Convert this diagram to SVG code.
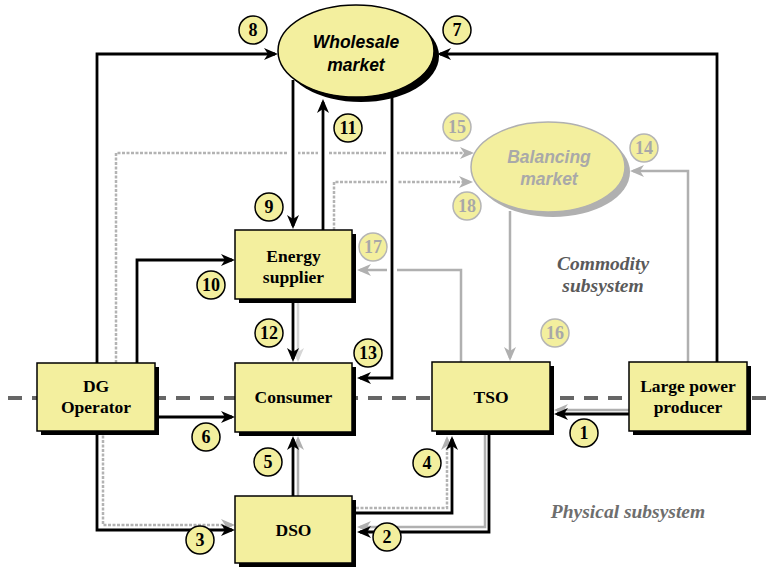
<svg xmlns="http://www.w3.org/2000/svg" width="773" height="568" viewBox="0 0 773 568">
<style>
.box{fill:#f3ef9e;stroke:#000;stroke-width:1.5}
.shd{fill:#000}
.bt{font-family:"Liberation Serif",serif;font-weight:bold;font-size:17.5px;text-anchor:middle;fill:#000}
.bl{fill:none;stroke:#000;stroke-width:2.8}
.gl{fill:none;stroke:#b0b0b0;stroke-width:2.5}
.lg{fill:none;stroke:#d6d6d6;stroke-width:2.5}
.gd{fill:none;stroke:#b3b3b3;stroke-width:2.5;stroke-dasharray:3 1.5}
.cb circle{fill:#f3ef9e;stroke:#000;stroke-width:1.5}
.cb text{font-family:"Liberation Serif",serif;font-weight:bold;font-size:18px;text-anchor:middle;fill:#000}
.cg circle{fill:#f3ef9e;stroke:#b5b5b5;stroke-width:1.5}
.cg text{font-family:"Liberation Serif",serif;font-weight:bold;font-size:18px;text-anchor:middle;fill:#a8a8a8}
.mk{font-family:"Liberation Sans",Arial,sans-serif;font-weight:bold;font-style:italic;font-size:17.5px;text-anchor:middle}
.sub{font-family:"Liberation Serif",serif;font-weight:bold;font-style:italic;font-size:19.5px;text-anchor:middle}
</style>
<defs>
<marker id="ab" viewBox="0 0 14 12" refX="11" refY="6" markerWidth="14" markerHeight="12" orient="auto" markerUnits="userSpaceOnUse"><path d="M0,0 L14,6 L0,12 L4,6 z" fill="#000"/></marker>
<marker id="ag" viewBox="0 0 14 12" refX="11" refY="6" markerWidth="14" markerHeight="12" orient="auto" markerUnits="userSpaceOnUse"><path d="M0,0 L14,6 L0,12 L4,6 z" fill="#b0b0b0"/></marker>
<marker id="al" viewBox="0 0 14 12" refX="11" refY="6" markerWidth="14" markerHeight="12" orient="auto" markerUnits="userSpaceOnUse"><path d="M0,0 L14,6 L0,12 L4,6 z" fill="#d6d6d6"/></marker>
</defs>
<rect width="773" height="568" fill="#fff"/>
<line x1="8" y1="398" x2="773" y2="398" stroke="#666" stroke-width="4" stroke-dasharray="14 10"/>
<g id="connectors">
<!-- gray / dotted -->
<path class="gd" d="M116,363 V153 H471" marker-end="url(#ag)"/>
<path class="gd" d="M334,230 V182 H470" marker-end="url(#ag)"/>
<path class="gl" d="M688,362 V171 H633" marker-end="url(#ag)"/>
<path class="gl" d="M510,211 V358" marker-end="url(#ag)"/>
<path class="gl" d="M461,362 V270 H360" marker-end="url(#ag)"/>
<path class="lg" d="M298,303 V359" marker-end="url(#al)"/>
<path class="gl" d="M298,496 V439" marker-end="url(#ag)"/>
<path class="gd" d="M103,431 V525 H232" marker-end="url(#ag)"/>
<path class="gd" d="M356,508 H447 V439" marker-end="url(#ag)"/>
<path class="gl" d="M485,435 V527 H360" marker-end="url(#ag)"/>
<path class="gl" d="M629,410 H557" marker-end="url(#ag)"/>
<!-- gaps -->
<g fill="#fff">
<rect x="288" y="149" width="10" height="8"/>
<rect x="318" y="149" width="10" height="8"/>
<rect x="387" y="149" width="10" height="8"/>
<rect x="387" y="178" width="10" height="8"/>
<rect x="387" y="266" width="10" height="8"/>
</g>
<!-- black -->
<path class="bl" d="M97,363 V54 H275" marker-end="url(#ab)"/>
<path class="bl" d="M717,362 V54 H440" marker-end="url(#ab)"/>
<path class="bl" d="M293,80 V226" marker-end="url(#ab)"/>
<path class="bl" d="M323,230 V102" marker-end="url(#ab)"/>
<path class="bl" d="M392,95 V378 H360" marker-end="url(#ab)"/>
<path class="bl" d="M137,363 V260 H232" marker-end="url(#ab)"/>
<path class="bl" d="M293,299 V359" marker-end="url(#ab)"/>
<path class="bl" d="M293,496 V439" marker-end="url(#ab)"/>
<path class="bl" d="M155,417 H232" marker-end="url(#ab)"/>
<path class="bl" d="M97,431 V530 H232" marker-end="url(#ab)"/>
<path class="bl" d="M356,513 H452 V439" marker-end="url(#ab)"/>
<path class="bl" d="M489,435 V532 H360" marker-end="url(#ab)"/>
<path class="bl" d="M629,414 H557" marker-end="url(#ab)"/>
</g>
<g id="wholesale">
<ellipse cx="361" cy="56" rx="78" ry="46" fill="#000"/>
<ellipse cx="356" cy="51" rx="78" ry="46" fill="#f3ef9e" stroke="#000" stroke-width="1.5"/>
<text class="mk" x="356" y="48">Wholesale</text>
<text class="mk" x="356" y="71">market</text>
</g>
<g id="balancing">
<ellipse cx="553" cy="172" rx="77" ry="45" fill="#b0b0b0"/>
<ellipse cx="548" cy="167" rx="77" ry="45" fill="#f3ef9e" stroke="#b0b0b0" stroke-width="1.5"/>
<text class="mk" x="549" y="163" fill="#a9a9a9">Balancing</text>
<text class="mk" x="549" y="185" fill="#a9a9a9">market</text>
</g>
<g id="energy-supplier">
<rect class="shd" x="239" y="234" width="117" height="69"/>
<rect class="box" x="235" y="230" width="117" height="69"/>
<text class="bt" x="293.5" y="262">Energy</text>
<text class="bt" x="293.5" y="283">supplier</text>
</g>
<g id="consumer">
<rect class="shd" x="239" y="367" width="117" height="69"/>
<rect class="box" x="235" y="363" width="117" height="69"/>
<text class="bt" x="293.5" y="403">Consumer</text>
</g>
<g id="dso">
<rect class="shd" x="239" y="500" width="117" height="67"/>
<rect class="box" x="235" y="496" width="117" height="67"/>
<text class="bt" x="293.5" y="536">DSO</text>
</g>
<g id="dg-operator">
<rect class="shd" x="41" y="367" width="118" height="68"/>
<rect class="box" x="37" y="363" width="118" height="68"/>
<text class="bt" x="96" y="392">DG</text>
<text class="bt" x="96" y="413">Operator</text>
</g>
<g id="tso">
<rect class="shd" x="436" y="366" width="118" height="69"/>
<rect class="box" x="432" y="362" width="118" height="69"/>
<text class="bt" x="491" y="403">TSO</text>
</g>
<g id="large-power-producer">
<rect class="shd" x="633" y="366" width="118" height="69"/>
<rect class="box" x="629" y="362" width="118" height="69"/>
<text class="bt" x="688" y="392">Large power</text>
<text class="bt" x="688" y="413">producer</text>
</g>
<g id="labels-black" class="cb">
<circle cx="584" cy="433" r="14"/><text x="584" y="439">1</text>
<circle cx="387" cy="537" r="14"/><text x="387" y="543">2</text>
<circle cx="200" cy="540" r="14"/><text x="200" y="546">3</text>
<circle cx="427" cy="463" r="14"/><text x="427" y="469">4</text>
<circle cx="268" cy="462" r="14"/><text x="268" y="468">5</text>
<circle cx="206" cy="437" r="14"/><text x="206" y="443">6</text>
<circle cx="457" cy="30" r="14"/><text x="457" y="36">7</text>
<circle cx="253" cy="30" r="14"/><text x="253" y="36">8</text>
<circle cx="269" cy="207" r="14"/><text x="269" y="213">9</text>
<circle cx="211" cy="285" r="14"/><text x="211" y="291">10</text>
<circle cx="348" cy="128" r="14"/><text x="348" y="134">11</text>
<circle cx="269" cy="333" r="14"/><text x="269" y="339">12</text>
<circle cx="368" cy="353" r="14"/><text x="368" y="359">13</text>
</g>
<g id="labels-gray" class="cg">
<circle cx="644" cy="148" r="14"/><text x="644" y="154">14</text>
<circle cx="457" cy="127" r="14"/><text x="457" y="133">15</text>
<circle cx="555" cy="333" r="14"/><text x="555" y="339">16</text>
<circle cx="373" cy="247" r="14"/><text x="373" y="253">17</text>
<circle cx="467" cy="206" r="14"/><text x="467" y="212">18</text>
</g>
<g id="subsystem-labels">
<text class="sub" x="603" y="270" fill="#5a5a5a">Commodity</text>
<text class="sub" x="603" y="292" fill="#5a5a5a">subsystem</text>
<text class="sub" x="628" y="518" fill="#6e6e6e">Physical subsystem</text>
</g>
</svg>
